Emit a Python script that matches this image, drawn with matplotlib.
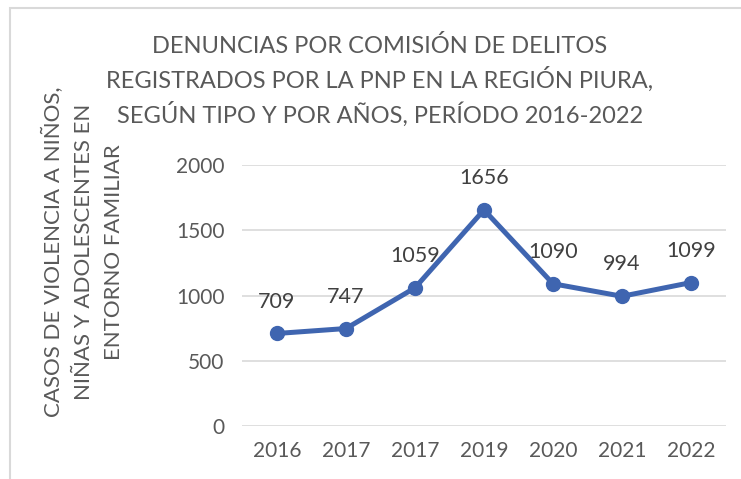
import matplotlib
matplotlib.use("Agg")
import matplotlib.pyplot as plt
from matplotlib.patches import Rectangle

years = ["2016", "2017", "2017", "2019", "2020", "2021", "2022"]
values = [709, 747, 1059, 1656, 1090, 994, 1099]
yticks = [0, 500, 1000, 1500, 2000]

title = "DENUNCIAS POR COMISIÓN DE DELITOS\nREGISTRADOS POR LA PNP EN LA REGIÓN PIURA,\nSEGÚN TIPO Y POR AÑOS, PERÍODO 2016-2022"
ylabel = "CASOS DE VIOLENCIA A NIÑOS,\nNIÑAS Y ADOLESCENTES EN\nENTORNO FAMILIAR"

plt.rcParams['font.family'] = ['Lato', 'DejaVu Sans']
gray = "#595959"
blue = "#3F65B0"

W, H = 741, 479
fig = plt.figure(figsize=(W/100, H/100), dpi=100)
fig.patches.append(Rectangle((10/W, -0.1), 1.2, 1 - 8/H + 0.1, transform=fig.transFigure,
                             fill=False, edgecolor="#D9D9D9", linewidth=1.5))

ax = fig.add_axes([242.5/W, 1 - 426/H, (725.5-242.5)/W, (426-165)/H])
x = list(range(len(years)))
ax.plot(x, values, color=blue, linewidth=3.6, marker='o', markersize=10, solid_capstyle='round', zorder=3)
for xi, v in zip(x, values):
    ax.annotate(str(v), (xi, v), xytext=(0, 23), textcoords='offset points', ha='center', va='center',
                fontsize=15.5, color="#404040")
ax.set_xlim(-0.5, len(years) - 0.5)
ax.set_ylim(0, 2000)
ax.set_yticks(yticks)
ax.set_xticks(x)
ax.set_xticklabels(years)
ax.grid(axis='y', color="#D9D9D9", linewidth=1.2)
ax.set_axisbelow(True)
for s in ax.spines.values():
    s.set_visible(False)
ax.tick_params(axis='both', length=0, labelsize=15, labelcolor=gray)
ax.tick_params(axis='y', pad=13)
ax.tick_params(axis='x', pad=11)

fig.text(380/W, 1 - 81/H, title, ha='center', va='center', fontsize=17, color=gray, linespacing=1.46)
fig.text(83/W, 1 - 252/H, ylabel, ha='center', va='center', rotation=90, fontsize=16, color=gray,
         linespacing=1.6, multialignment='center')

fig.savefig("out.png", dpi=100)
